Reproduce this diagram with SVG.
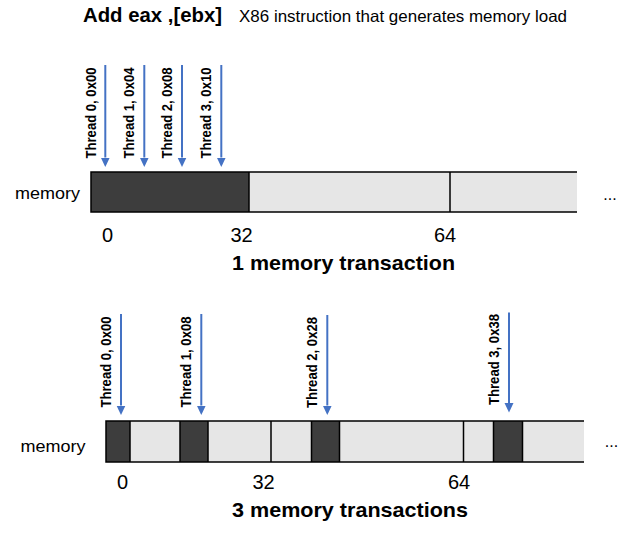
<svg xmlns="http://www.w3.org/2000/svg" width="630" height="537" viewBox="0 0 630 537">
<style>
.t{font-family:"Liberation Sans",Arial,sans-serif;fill:#000}
.b{font-weight:bold}
.lbl{font-family:"Liberation Sans",Arial,sans-serif;font-weight:bold;font-size:14px;fill:#000}
.arr{stroke:#4472C4;stroke-width:2;fill:none}
.dk{fill:#3d3d3d}
.lt{fill:#e6e6e6}
.ln{stroke:#000;stroke-width:1.5;fill:none}
</style>
<defs>
<marker id="ah" markerUnits="userSpaceOnUse" markerWidth="10" markerHeight="10" refX="0" refY="4.5" orient="auto">
<path d="M0,0 L9.5,4.5 L0,9 z" fill="#4472C4"/>
</marker>
</defs>
<rect width="630" height="537" fill="#fff"/>

<g id="title">
<text class="t b" x="83" y="21.5" font-size="20" textLength="139" lengthAdjust="spacingAndGlyphs">Add eax ,[ebx]</text>
<text class="t" x="239" y="21.5" font-size="16.5" textLength="328" lengthAdjust="spacingAndGlyphs">X86 instruction that generates memory load</text>
</g>

<!-- Top: coalesced -->
<g id="memory1">
<text class="t" x="15" y="198.5" font-size="17" textLength="65" lengthAdjust="spacingAndGlyphs">memory</text>
<rect class="dk" x="91" y="172" width="158" height="40"/>
<rect class="lt" x="249" y="172" width="328" height="40"/>
<path class="ln" d="M577,172 H91 V212 H577 M249,172 V212 M450,172 V212"/>
<text class="t" x="610" y="200" font-size="16" text-anchor="middle">...</text>
<text class="t" x="107.5" y="241.5" font-size="20" text-anchor="middle">0</text>
<text class="t" x="241.5" y="241.5" font-size="20" text-anchor="middle">32</text>
<text class="t" x="445" y="241.5" font-size="20" text-anchor="middle">64</text>
<text class="t b" x="343.5" y="270" font-size="20.5" text-anchor="middle" textLength="223" lengthAdjust="spacingAndGlyphs">1 memory transaction</text>
</g>

<g id="threads1">
<text class="lbl" transform="translate(95.5,158.5) rotate(-90)" textLength="91" lengthAdjust="spacingAndGlyphs">Thread 0, 0x00</text>
<text class="lbl" transform="translate(134,158.5) rotate(-90)" textLength="91" lengthAdjust="spacingAndGlyphs">Thread 1, 0x04</text>
<text class="lbl" transform="translate(172,158.5) rotate(-90)" textLength="91" lengthAdjust="spacingAndGlyphs">Thread 2, 0x08</text>
<text class="lbl" transform="translate(211,158.5) rotate(-90)" textLength="91" lengthAdjust="spacingAndGlyphs">Thread 3, 0x10</text>
</g>

<!-- Bottom: uncoalesced -->
<g id="memory2">
<text class="t" x="20.5" y="452" font-size="17" textLength="65" lengthAdjust="spacingAndGlyphs">memory</text>
<rect class="lt" x="106" y="421" width="478" height="41"/>
<rect class="dk" x="106" y="421" width="24" height="41"/>
<rect class="dk" x="180" y="421" width="28" height="41"/>
<rect class="dk" x="311.5" y="421" width="28" height="41"/>
<rect class="dk" x="493.5" y="421" width="29" height="41"/>
<path class="ln" d="M584,421 H106 V462 H584 M130,421 V462 M180,421 V462 M208,421 V462 M271,421 V462 M311.5,421 V462 M339.5,421 V462 M463.5,421 V462 M493.5,421 V462 M522.5,421 V462"/>
<text class="t" x="611.5" y="447" font-size="16" text-anchor="middle">...</text>
<text class="t" x="122.5" y="489" font-size="20" text-anchor="middle">0</text>
<text class="t" x="263.5" y="489" font-size="20" text-anchor="middle">32</text>
<text class="t" x="459" y="489" font-size="20" text-anchor="middle">64</text>
<text class="t b" x="350" y="517" font-size="20.5" text-anchor="middle" textLength="236" lengthAdjust="spacingAndGlyphs">3 memory transactions</text>
</g>

<g id="threads2">
<text class="lbl" transform="translate(111,407.5) rotate(-90)" textLength="91" lengthAdjust="spacingAndGlyphs">Thread 0, 0x00</text>
<text class="lbl" transform="translate(191,407.5) rotate(-90)" textLength="91" lengthAdjust="spacingAndGlyphs">Thread 1, 0x08</text>
<text class="lbl" transform="translate(317,408) rotate(-90)" textLength="91" lengthAdjust="spacingAndGlyphs">Thread 2, 0x28</text>
<text class="lbl" transform="translate(499,405) rotate(-90)" textLength="91" lengthAdjust="spacingAndGlyphs">Thread 3, 0x38</text>
</g>

<g id="connectors">
<line class="arr" x1="105.3" y1="65" x2="105.3" y2="157.5" marker-end="url(#ah)"/>
<line class="arr" x1="144.3" y1="65" x2="144.3" y2="157.5" marker-end="url(#ah)"/>
<line class="arr" x1="182" y1="65" x2="182" y2="157.5" marker-end="url(#ah)"/>
<line class="arr" x1="221.3" y1="65" x2="221.3" y2="157.5" marker-end="url(#ah)"/>
<line class="arr" x1="121" y1="314" x2="121" y2="405.5" marker-end="url(#ah)"/>
<line class="arr" x1="201.3" y1="314" x2="201.3" y2="405.5" marker-end="url(#ah)"/>
<line class="arr" x1="327.3" y1="315" x2="327.3" y2="405.5" marker-end="url(#ah)"/>
<line class="arr" x1="509" y1="312.5" x2="509" y2="403" marker-end="url(#ah)"/>
</g>
</svg>
